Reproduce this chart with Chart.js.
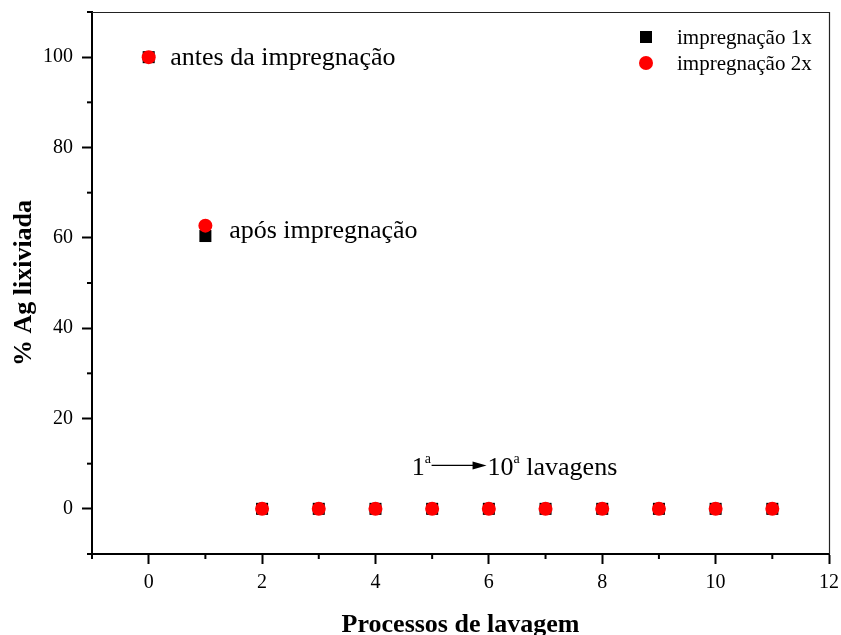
<!DOCTYPE html>
<html>
<head>
<meta charset="utf-8">
<style>
  html, body { margin: 0; padding: 0; background: #fff; }
  #wrap { width: 841px; height: 635px; }
</style>
<script src="https://cdn.jsdelivr.net/npm/chart.js@4.4.0/dist/chart.umd.min.js"></script>
</head>
<body>
<div id="wrap"><canvas id="lavagemChart" width="841" height="635"></canvas></div>
<script>
// processos de lavagem: 0 = antes, 1 = após impregnação, 2..11 = 1a a 10a lavagem
const processos = [0, 1, 2, 3, 4, 5, 6, 7, 8, 9, 10, 11];
const impregnacao1x = [100, 60.4, 0, 0, 0, 0, 0, 0, 0, 0, 0, 0];
const impregnacao2x = [100, 62.7, 0, 0, 0, 0, 0, 0, 0, 0, 0, 0];

const xTicks = [0, 2, 4, 6, 8, 10, 12];
const yTicks = [0, 20, 40, 60, 80, 100];

const serif = '"Liberation Serif", "Times New Roman", serif';

const toPoints = (vals) => processos.map((x, i) => ({ x: x, y: vals[i] }));

// ticks menores, moldura, titulos, legenda e anotacoes
const extrasPlugin = {
    id: 'extras',
    afterDraw(chart) {
        const ctx = chart.ctx;
        const area = chart.chartArea;
        const xs = chart.scales.x;
        const ys = chart.scales.y;
        ctx.save();

        // minor ticks
        ctx.strokeStyle = '#000';
        ctx.lineWidth = 2;
        ys.ticks.forEach((t) => {
            if (!yTicks.includes(t.value)) {
                const py = ys.getPixelForValue(t.value);
                ctx.beginPath();
                ctx.moveTo(area.left - 5, py);
                ctx.lineTo(area.left, py);
                ctx.stroke();
            }
        });
        xs.ticks.forEach((t) => {
            if (!xTicks.includes(t.value)) {
                const px = xs.getPixelForValue(t.value);
                ctx.beginPath();
                ctx.moveTo(px, area.bottom);
                ctx.lineTo(px, area.bottom + 5);
                ctx.stroke();
            }
        });

        // top and right frame
        ctx.lineWidth = 1.2;
        ctx.strokeStyle = '#222';
        ctx.beginPath();
        ctx.moveTo(area.left, area.top + 0.5);
        ctx.lineTo(area.right + 0.5, area.top + 0.5);
        ctx.lineTo(area.right + 0.5, area.bottom);
        ctx.stroke();

        // axis titles
        ctx.fillStyle = '#000';
        ctx.font = 'bold 26px ' + serif;
        ctx.textAlign = 'center';
        ctx.textBaseline = 'alphabetic';
        ctx.fillText('Processos de lavagem', (area.left + area.right) / 2, 632);
        ctx.save();
        ctx.translate(31, (area.top + area.bottom) / 2);
        ctx.rotate(-Math.PI / 2);
        ctx.fillText('% Ag lixiviada', 0, 0);
        ctx.restore();

        // annotations
        ctx.textAlign = 'left';
        ctx.font = '26px ' + serif;
        ctx.fillText('antes da impregnação', xs.getPixelForValue(0.38), ys.getPixelForValue(98.2));
        ctx.fillText('após impregnação', xs.getPixelForValue(1.42), ys.getPixelForValue(59.9));

        const by = ys.getPixelForValue(7.6);
        let px = xs.getPixelForValue(4.64);
        ctx.fillText('1', px, by);
        px += ctx.measureText('1').width;
        ctx.font = '14px ' + serif;
        ctx.fillText('a', px, by - 12);
        const ax0 = xs.getPixelForValue(4.99);
        const ax1 = xs.getPixelForValue(5.96);
        const ay = ys.getPixelForValue(9.6);
        ctx.lineWidth = 1.2;
        ctx.strokeStyle = '#000';
        ctx.beginPath();
        ctx.moveTo(ax0, ay);
        ctx.lineTo(ax1 - 12, ay);
        ctx.stroke();
        ctx.beginPath();
        ctx.moveTo(ax1, ay);
        ctx.lineTo(ax1 - 14, ay - 4);
        ctx.lineTo(ax1 - 14, ay + 4);
        ctx.closePath();
        ctx.fill();
        px = ax1 + 1;
        ctx.font = '26px ' + serif;
        ctx.fillText('10', px, by);
        px += ctx.measureText('10').width;
        ctx.font = '14px ' + serif;
        ctx.fillText('a', px, by - 12);
        px += ctx.measureText('a').width;
        ctx.font = '26px ' + serif;
        ctx.fillText(' lavagens', px, by);

        // legend
        ctx.font = '21px ' + serif;
        ctx.textBaseline = 'middle';
        ctx.fillStyle = '#000';
        ctx.fillRect(640, 31, 12, 12);
        ctx.fillText('impregnação 1x', 677, 38);
        ctx.fillStyle = '#ff0000';
        ctx.beginPath();
        ctx.arc(646, 63, 7, 0, Math.PI * 2);
        ctx.fill();
        ctx.fillStyle = '#000';
        ctx.fillText('impregnação 2x', 677, 64);

        ctx.restore();
    },
};

new Chart(document.getElementById('lavagemChart').getContext('2d'), {
    type: 'scatter',
    data: {
        datasets: [
            {
                label: 'impregnação 2x',
                data: toPoints(impregnacao2x),
                pointStyle: 'circle',
                pointRadius: 7,
                pointBorderWidth: 0,
                backgroundColor: '#ff0000',
                borderColor: '#ff0000',
                order: 0,
            },
            {
                label: 'impregnação 1x',
                data: toPoints(impregnacao1x),
                pointStyle: 'rect',
                pointRadius: 8.5,
                pointBorderWidth: 0,
                backgroundColor: '#000',
                borderColor: '#000',
                order: 1,
            },
        ],
    },
    options: {
        responsive: false,
        animation: false,
        events: [],
        layout: { padding: { top: 12, right: 12, left: 0, bottom: 0 } },
        plugins: {
            legend: { display: false },
            tooltip: { enabled: false },
        },
        scales: {
            x: {
                type: 'linear',
                min: -1,
                max: 12,
                afterFit: (scale) => {
                    scale.height = 81;
                    scale.paddingLeft = 0;
                    scale.paddingRight = 0;
                },
                ticks: {
                    stepSize: 1,
                    autoSkip: false,
                    maxRotation: 0,
                    padding: 7,
                    color: '#000',
                    font: { family: serif, size: 20 },
                    callback: (v) => (xTicks.includes(v) ? String(v) : ''),
                },
                grid: {
                    drawOnChartArea: false,
                    drawTicks: true,
                    tickLength: 10,
                    tickWidth: 2,
                    tickColor: (c) => (c.tick && xTicks.includes(c.tick.value) ? '#000' : 'rgba(0,0,0,0)'),
                },
                border: { display: true, color: '#000', width: 2 },
            },
            y: {
                type: 'linear',
                min: -10,
                max: 110,
                afterFit: (scale) => {
                    scale.width = 92;
                    scale.paddingTop = 0;
                    scale.paddingBottom = 0;
                },
                ticks: {
                    stepSize: 10,
                    autoSkip: false,
                    padding: 9,
                    color: '#000',
                    font: { family: serif, size: 20 },
                    callback: (v) => (yTicks.includes(v) ? String(v) : ''),
                },
                grid: {
                    drawOnChartArea: false,
                    drawTicks: true,
                    tickLength: 10,
                    tickWidth: 2,
                    tickColor: (c) => (c.tick && yTicks.includes(c.tick.value) ? '#000' : 'rgba(0,0,0,0)'),
                },
                border: { display: true, color: '#000', width: 2 },
            },
        },
    },
    plugins: [extrasPlugin],
});
</script>
</body>
</html>
